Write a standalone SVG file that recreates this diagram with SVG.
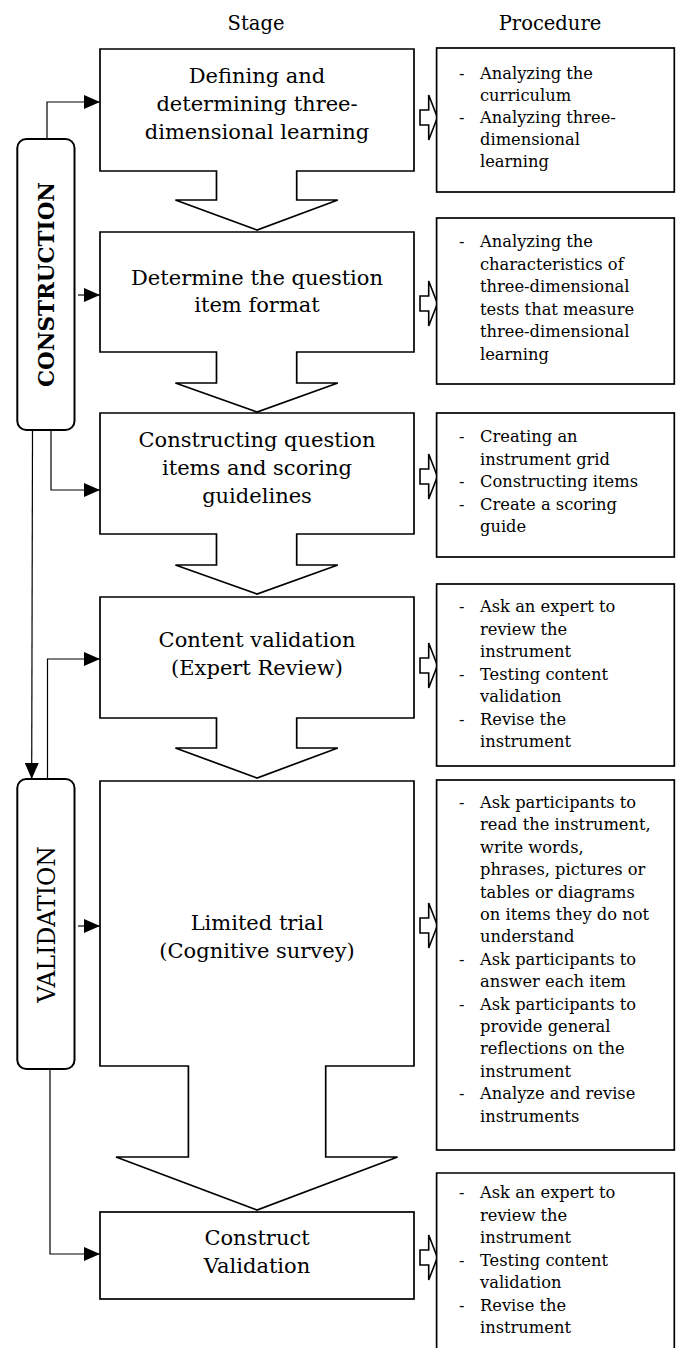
<svg xmlns="http://www.w3.org/2000/svg" width="677" height="1348" viewBox="0 0 677 1348">
<defs>
<style>
.stage{fill:#fff;stroke:#000;stroke-width:1.7}
.proc{fill:#fff;stroke:#000;stroke-width:1.7}
.side{fill:#fff;stroke:#000;stroke-width:2}
.hol{fill:#fff;stroke:#000;stroke-width:1.6;stroke-linejoin:miter}
.st{font-family:"DejaVu Serif","Liberation Serif",serif;font-size:21px;fill:#000;text-anchor:middle}
.pt{font-family:"DejaVu Serif","Liberation Serif",serif;font-size:16.3px;fill:#000}
.hd{font-family:"DejaVu Serif","Liberation Serif",serif;font-size:19.5px;fill:#000;text-anchor:middle}
.vt{font-family:"DejaVu Serif","Liberation Serif",serif;font-size:23.5px;fill:#000;text-anchor:middle}
.con{fill:none;stroke:#000;stroke-width:1.2}
</style>
<marker id="ah" viewBox="0 0 16 14" refX="16" refY="7" markerWidth="16" markerHeight="14" markerUnits="userSpaceOnUse" orient="auto">
<path d="M0,0 L16,7 L0,14 Z" fill="#000"/>
</marker>
</defs>

<g id="headers">
<text class="hd" x="256" y="30">Stage</text>
<text class="hd" x="550" y="30">Procedure</text>
</g>

<g id="side-construction">
<rect class="side" x="17.3" y="139" width="57.2" height="291" rx="9"/>
<text class="vt" style="font-weight:bold;font-size:22px" transform="translate(54,284.5) rotate(-90)" textLength="205" lengthAdjust="spacingAndGlyphs">CONSTRUCTION</text>
</g>

<g id="side-validation">
<rect class="side" x="17.3" y="779" width="57.2" height="290" rx="9"/>
<text class="vt" transform="translate(54.5,924.5) rotate(-90)">VALIDATION</text>
</g>

<g id="stage1">
<path class="stage" d="M100,49 H414 V171 H296.7 V200 H337.8 L257,230 L175.4,200 H216.5 V171 H100 Z"/>
<text class="st" x="257" y="83">Defining and</text>
<text class="st" x="257" y="111">determining three-</text>
<text class="st" x="257" y="139">dimensional learning</text>
</g>

<g id="stage2">
<path class="stage" d="M100,232 H414 V352 H296.7 V383 H337.8 L257,412 L175.4,383 H216.5 V352 H100 Z"/>
<text class="st" x="257" y="285">Determine the question</text>
<text class="st" x="257" y="312">item format</text>
</g>

<g id="stage3">
<path class="stage" d="M100,413 H414 V534 H296.7 V565 H337.8 L257,594 L175.4,565 H216.5 V534 H100 Z"/>
<text class="st" x="257" y="447">Constructing question</text>
<text class="st" x="257" y="475">items and scoring</text>
<text class="st" x="257" y="503">guidelines</text>
</g>

<g id="stage4">
<path class="stage" d="M100,597 H414 V718 H296.7 V748 H337.8 L257,778 L175.4,748 H216.5 V718 H100 Z"/>
<text class="st" x="257" y="647">Content validation</text>
<text class="st" x="257" y="675">(Expert Review)</text>
</g>

<g id="stage5">
<path class="stage" d="M100,781 H414 V1066 H325.7 V1157 H397.6 L257,1210 L116,1157 H188.4 V1066 H100 Z"/>
<text class="st" x="257" y="930">Limited trial</text>
<text class="st" x="257" y="958">(Cognitive survey)</text>
</g>

<g id="stage6">
<rect class="stage" x="100" y="1212" width="314" height="87"/>
<text class="st" x="257" y="1245">Construct</text>
<text class="st" x="257" y="1273">Validation</text>
</g>

<g id="hollow-arrows">
<path class="hol" d="M420,110 H428.7 V95 L437.4,117.5 L428.7,140 V125 H420 Z"/>
<path class="hol" d="M420,296 H428.7 V281 L437.4,303.5 L428.7,326 V311 H420 Z"/>
<path class="hol" d="M420,469 H428.7 V454 L437.4,476.5 L428.7,499 V484 H420 Z"/>
<path class="hol" d="M420,658 H428.7 V643 L437.4,665.5 L428.7,688 V673 H420 Z"/>
<path class="hol" d="M420,918 H428.7 V903 L437.4,925.5 L428.7,948 V933 H420 Z"/>
<path class="hol" d="M420,1250 H428.7 V1235 L437.4,1257.5 L428.7,1280 V1265 H420 Z"/>
</g>

<g id="proc1">
<rect class="proc" x="436.6" y="48" width="237.7" height="144"/>
<text class="pt"><tspan x="459" y="79">-</tspan><tspan x="480" y="79">Analyzing the</tspan><tspan x="480" y="101">curriculum</tspan><tspan x="459" y="123">-</tspan><tspan x="480" y="123">Analyzing three-</tspan><tspan x="480" y="145">dimensional</tspan><tspan x="480" y="167">learning</tspan></text>
</g>

<g id="proc2">
<rect class="proc" x="436.6" y="218" width="237.7" height="166"/>
<text class="pt"><tspan x="459" y="247">-</tspan><tspan x="480" y="247">Analyzing the</tspan><tspan x="480" y="269.5">characteristics of</tspan><tspan x="480" y="292">three-dimensional</tspan><tspan x="480" y="314.5">tests that measure</tspan><tspan x="480" y="337">three-dimensional</tspan><tspan x="480" y="359.5">learning</tspan></text>
</g>

<g id="proc3">
<rect class="proc" x="436.6" y="413" width="237.7" height="144"/>
<text class="pt"><tspan x="459" y="442">-</tspan><tspan x="480" y="442">Creating an</tspan><tspan x="480" y="464.5">instrument grid</tspan><tspan x="459" y="487">-</tspan><tspan x="480" y="487">Constructing items</tspan><tspan x="459" y="509.5">-</tspan><tspan x="480" y="509.5">Create a scoring</tspan><tspan x="480" y="532">guide</tspan></text>
</g>

<g id="proc4">
<rect class="proc" x="436.6" y="584" width="237.7" height="182"/>
<text class="pt"><tspan x="459" y="612">-</tspan><tspan x="480" y="612">Ask an expert to</tspan><tspan x="480" y="634.5">review the</tspan><tspan x="480" y="657">instrument</tspan><tspan x="459" y="679.5">-</tspan><tspan x="480" y="679.5">Testing content</tspan><tspan x="480" y="702">validation</tspan><tspan x="459" y="724.5">-</tspan><tspan x="480" y="724.5">Revise the</tspan><tspan x="480" y="747">instrument</tspan></text>
</g>

<g id="proc5">
<rect class="proc" x="436.6" y="780" width="237.7" height="370"/>
<text class="pt"><tspan x="459" y="808">-</tspan><tspan x="480" y="808">Ask participants to</tspan><tspan x="480" y="830.4">read the instrument,</tspan><tspan x="480" y="852.8">write words,</tspan><tspan x="480" y="875.2">phrases, pictures or</tspan><tspan x="480" y="897.6">tables or diagrams</tspan><tspan x="480" y="920">on items they do not</tspan><tspan x="480" y="942.4">understand</tspan><tspan x="459" y="964.8">-</tspan><tspan x="480" y="964.8">Ask participants to</tspan><tspan x="480" y="987.2">answer each item</tspan><tspan x="459" y="1009.6">-</tspan><tspan x="480" y="1009.6">Ask participants to</tspan><tspan x="480" y="1032">provide general</tspan><tspan x="480" y="1054.4">reflections on the</tspan><tspan x="480" y="1076.8">instrument</tspan><tspan x="459" y="1099.2">-</tspan><tspan x="480" y="1099.2">Analyze and revise</tspan><tspan x="480" y="1121.6">instruments</tspan></text>
</g>

<g id="proc6">
<path class="proc" d="M436.6,1352 V1173 H674.3 V1352"/>
<text class="pt"><tspan x="459" y="1198">-</tspan><tspan x="480" y="1198">Ask an expert to</tspan><tspan x="480" y="1220.5">review the</tspan><tspan x="480" y="1243">instrument</tspan><tspan x="459" y="1265.5">-</tspan><tspan x="480" y="1265.5">Testing content</tspan><tspan x="480" y="1288">validation</tspan><tspan x="459" y="1310.5">-</tspan><tspan x="480" y="1310.5">Revise the</tspan><tspan x="480" y="1333">instrument</tspan></text>
</g>

<g id="connectors">
<path class="con" d="M47,139 V102 H100" marker-end="url(#ah)"/>
<path class="con" d="M78,295 H100" marker-end="url(#ah)"/>
<path class="con" d="M51,430 V490 H100" marker-end="url(#ah)"/>
<path class="con" d="M32.5,430 L31.7,779" marker-end="url(#ah)"/>
<path class="con" d="M47.5,779 V659 H100" marker-end="url(#ah)"/>
<path class="con" d="M78,926 H100" marker-end="url(#ah)"/>
<path class="con" d="M50,1069 V1254 H100" marker-end="url(#ah)"/>
</g>
</svg>
